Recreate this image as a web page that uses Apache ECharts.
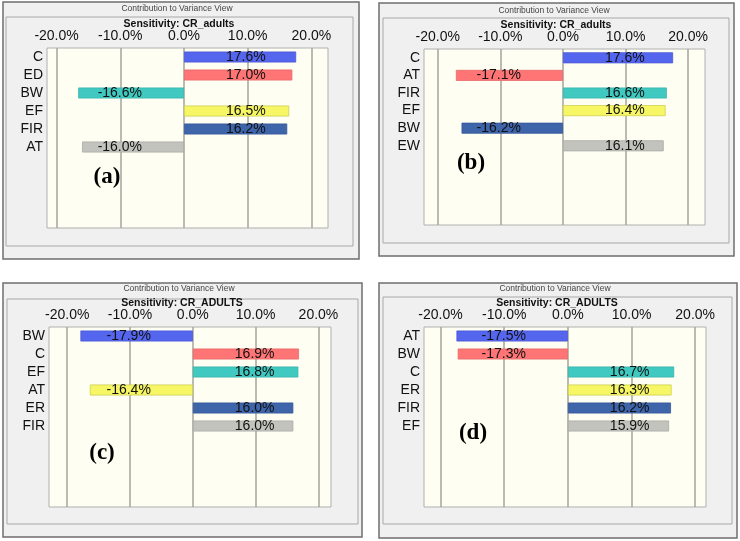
<!DOCTYPE html>
<html>
<head>
<meta charset="utf-8">
<script src="https://cdn.jsdelivr.net/npm/echarts@6/dist/echarts.min.js"></script>
<style>
html,body{margin:0;padding:0;background:#ffffff;}
#c{width:740px;height:541px;}
</style>
</head>
<body>
<div id="c"></div>
<script>
// ---- data ----
const catsA = ['C', 'ED', 'BW', 'EF', 'FIR', 'AT'];
const valsA = [17.6, 17.0, -16.6, 16.5, 16.2, -16.0];
const catsB = ['C', 'AT', 'FIR', 'EF', 'BW', 'EW'];
const valsB = [17.6, -17.1, 16.6, 16.4, -16.2, 16.1];
const catsC = ['BW', 'C', 'EF', 'AT', 'ER', 'FIR'];
const valsC = [-17.9, 16.9, 16.8, -16.4, 16.0, 16.0];
const catsD = ['AT', 'BW', 'C', 'ER', 'FIR', 'EF'];
const valsD = [-17.5, -17.3, 16.7, 16.3, 16.2, 15.9];
const tickValues = [-20, -10, 0, 10, 20];
const panelLetters = ['(a)', '(b)', '(c)', '(d)'];
const sensTitles = ['Sensitivity: CR_adults', 'Sensitivity: CR_adults', 'Sensitivity: CR_ADULTS', 'Sensitivity: CR_ADULTS'];
const windowTitle = 'Contribution to Variance View';

const barColors = ['#5566EE', '#FF7575', '#40C9C0', '#F7F766', '#3E64AA', '#C3C3BE'];
const barBorders = ['#4a58d8', '#e86a6a', '#38b5ad', '#cfcf50', '#36589a', '#aaaaa6'];

const panels = [
  {cats: catsA, vals: valsA, grid: {left: 47, top: 48, width: 281, height: 180}, min: -21.5, max: 22.6,
   outer: [3, 2, 356, 257], inner: [6, 17, 347, 229], t1: [177, 9], t2: [179, 24], letter: [107, 177]},
  {cats: catsB, vals: valsB, grid: {left: 424, top: 49, width: 281, height: 176}, min: -22.2, max: 22.7,
   outer: [379, 3, 355, 253], inner: [383, 18, 346, 225], t1: [554, 11], t2: [556, 25], letter: [471, 163]},
  {cats: catsC, vals: valsC, grid: {left: 49, top: 327, width: 282, height: 180}, min: -22.9, max: 22.0,
   outer: [3, 283, 359, 254], inner: [7, 299, 351, 225], t1: [179, 289], t2: [182, 303], letter: [102, 453]},
  {cats: catsD, vals: valsD, grid: {left: 424, top: 327, width: 282, height: 180}, min: -22.6, max: 21.7,
   outer: [379, 283, 358, 255], inner: [383, 297, 349, 227], t1: [555, 289], t2: [557, 303], letter: [473, 433]}
];

const SLOTS = 10;
const grids = [], xAxes = [], yAxes = [], series = [], graphics = [];

panels.forEach((p, i) => {
  // window frames
  graphics.push({type: 'rect', shape: {x: p.outer[0], y: p.outer[1], width: p.outer[2], height: p.outer[3]},
    style: {fill: '#F0F0F0', stroke: '#6E6E6E', lineWidth: 1.5}, z: -10});
  graphics.push({type: 'rect', shape: {x: p.inner[0], y: p.inner[1], width: p.inner[2], height: p.inner[3]},
    style: {fill: 'none', stroke: '#A8A8A8', lineWidth: 1}, z: -9});
  graphics.push({type: 'text', x: p.t1[0], y: p.t1[1], z: 10,
    style: {text: windowTitle, fill: '#444', font: '8.5px "Liberation Sans", Arial, sans-serif', textAlign: 'center', textVerticalAlign: 'middle'}});
  graphics.push({type: 'text', x: p.t2[0], y: p.t2[1], z: 10,
    style: {text: sensTitles[i], fill: '#111', font: 'bold 10.5px "Liberation Sans", Arial, sans-serif', textAlign: 'center', textVerticalAlign: 'middle'}});
  graphics.push({type: 'text', x: p.letter[0], y: p.letter[1], z: 100,
    style: {text: panelLetters[i], fill: '#000', font: 'bold 23px "Liberation Serif", "Times New Roman", serif', textAlign: 'center', textVerticalAlign: 'middle'}});

  grids.push(Object.assign({show: true, backgroundColor: '#FEFEF2', borderColor: '#B0B0B0', borderWidth: 1, containLabel: false}, p.grid));

  xAxes.push({
    type: 'value', gridIndex: i, position: 'top', min: p.min, max: p.max,
    axisLine: {show: false},
    axisTick: {show: false, customValues: tickValues},
    axisLabel: {customValues: tickValues, margin: 5, color: '#111', fontSize: 14, fontFamily: '"Liberation Sans", Arial, sans-serif',
      formatter: v => v.toFixed(1) + '%'},
    splitLine: {show: true, lineStyle: {color: '#A4A49C', width: 1.5}}
  });

  const catData = p.cats.concat(Array(SLOTS - p.cats.length).fill(''));
  yAxes.push({
    type: 'category', gridIndex: i, inverse: true, data: catData,
    axisLine: {show: false}, axisTick: {show: false}, splitLine: {show: false},
    axisLabel: {margin: 4, color: '#111', fontSize: 14, fontFamily: '"Liberation Sans", Arial, sans-serif', interval: 0}
  });

  series.push({
    type: 'bar', xAxisIndex: i, yAxisIndex: i, barWidth: 11,
    data: p.vals.map((v, k) => ({
      value: v,
      itemStyle: {color: barColors[k], borderColor: barBorders[k], borderWidth: 0.8},
      label: {position: v >= 0 ? 'insideLeft' : 'insideRight'}
    })),
    label: {show: true, distance: 42, color: '#111', fontSize: 14, fontFamily: '"Liberation Sans", Arial, sans-serif',
      formatter: o => o.value.toFixed(1) + '%'},
    animation: false
  });
});

const chart = echarts.init(document.getElementById('c'));
chart.setOption({
  animation: false,
  grid: grids, xAxis: xAxes, yAxis: yAxes, series: series,
  graphic: graphics
});
</script>
</body>
</html>
